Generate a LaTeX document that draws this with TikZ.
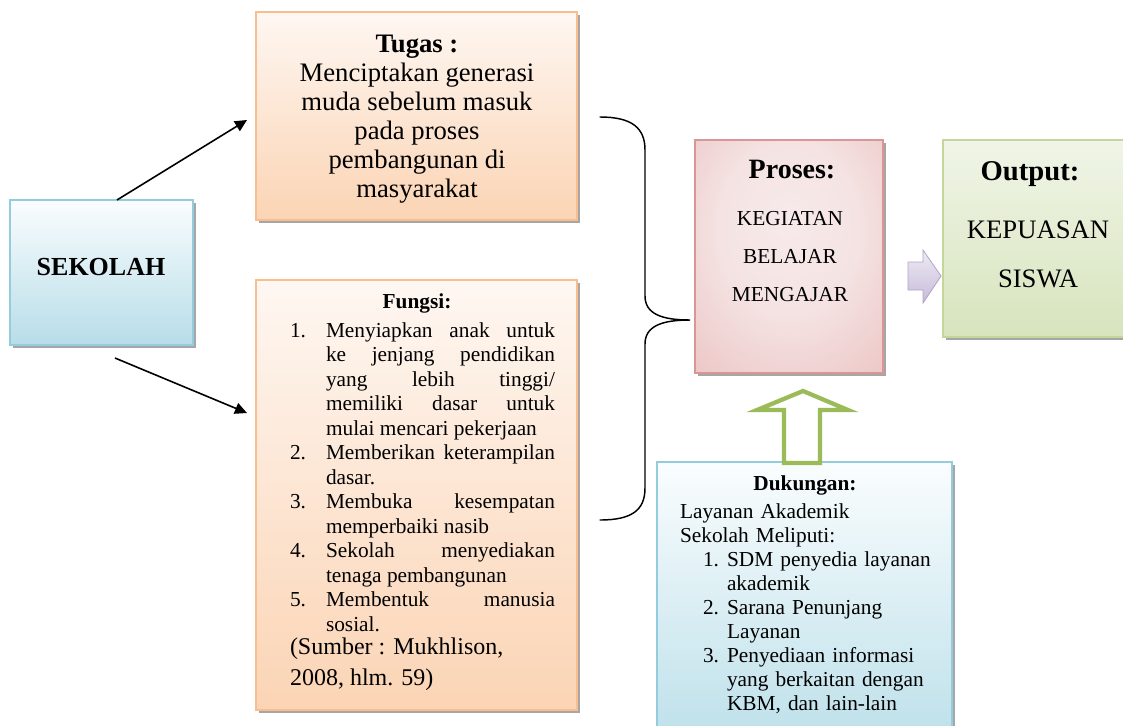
\documentclass[tikz,border=0pt]{standalone}
\usepackage{fontspec}
\setmainfont{Liberation Serif}
\usetikzlibrary{shadows,arrows.meta}
\definecolor{sekB}{HTML}{93CDDD}
\definecolor{sekF}{HTML}{B7DDE8}
\definecolor{sekT}{HTML}{FAFDFE}
\definecolor{peaB}{HTML}{F9BE8E}
\definecolor{peaF}{HTML}{FBD4B4}
\definecolor{peaT}{HTML}{FEF7F2}
\definecolor{pinB}{HTML}{D99694}
\definecolor{pinA}{HTML}{F7EAEA}
\definecolor{pinC}{HTML}{F5E3E3}
\definecolor{pinD}{HTML}{ECC8C7}
\definecolor{pinE}{HTML}{DEA3A2}
\definecolor{pinG}{HTML}{D89493}
\definecolor{grnB}{HTML}{C3D69B}
\definecolor{grnT}{HTML}{F0F5E7}
\definecolor{grnF}{HTML}{D7E4BD}
\definecolor{arrG}{HTML}{9BBB59}
\definecolor{lavB}{HTML}{B3A2C7}
\definecolor{lavT}{HTML}{EEEAF4}
\definecolor{lavF}{HTML}{C7BBD9}
\pgfdeclareradialshading{prosesshade}{\pgfpoint{0bp}{8bp}}{%
  color(0bp)=(pinA); color(18bp)=(pinC); color(38bp)=(pinD);
  color(58bp)=(pinE); color(75bp)=(pinG)}
\newcommand\lbl[1]{#1\hfil}
\begin{document}
\begin{tikzpicture}[x=0.75pt,y=-0.75pt,
  boxshape/.style={rectangle,inner sep=0pt,outer sep=0pt,line width=1.1pt,
    drop shadow={shadow xshift=2pt,shadow yshift=-2.4pt,fill=black,opacity=0.35}},
  txt/.style={inner sep=0pt,outer sep=0pt},
  blk/.style={line width=1.2pt,-{Triangle[length=9pt,width=8.5pt]}}]
\useasboundingbox (0,0) rectangle (1123,725);
\clip (0,0) rectangle (1123,725);

% boxes
\node[boxshape,draw=sekB,top color=sekT,bottom color=sekF,
  minimum width=137.25pt,minimum height=108.75pt] (sek) at (101.5,272.5) {};
\node[boxshape,draw=peaB,top color=peaT,bottom color=peaF,
  minimum width=240.75pt,minimum height=156pt] (tug) at (416.5,116) {};
\node[boxshape,draw=peaB,top color=peaT,bottom color=peaF,
  minimum width=240.75pt,minimum height=322.5pt] (fun) at (416.5,495) {};
\node[boxshape,draw=pinB,shading=prosesshade,
  minimum width=141pt,minimum height=174.75pt] (pro) at (789,256.5) {};
\node[boxshape,draw=grnB,top color=grnT,bottom color=grnF,
  minimum width=140.25pt,minimum height=147.75pt] (out) at (1036.5,238.5) {};
\node[boxshape,draw=sekB,top color=sekT,bottom color=sekF,
  minimum width=221.25pt,minimum height=231pt] (duk) at (804.5,616) {};

% texts
\node[txt,anchor=base,font=\bfseries\fontsize{19.5}{22}\selectfont] (sekt) at (101,275) {SEKOLAH};

\node[txt,anchor=north,align=center,font=\fontsize{20}{21.75}\selectfont] (tugt) at (417,32.5)
  {\strut\textbf{Tugas :}\\Menciptakan generasi\\muda sebelum masuk\\pada proses\\pembangunan di\\masyarakat};

\node[txt,anchor=base,font=\bfseries\fontsize{16}{18}\selectfont] (funh) at (417,308) {Fungsi:};
\node[txt,anchor=north west,text width=198.75pt,align=justify,
  font=\fontsize{16}{18.4}\selectfont] (funt) at (290,312.5) {%
  \hyphenpenalty=10000\exhyphenpenalty=10000
  \begin{list}{}{\setlength\leftmargin{27pt}\setlength\labelwidth{27pt}%
    \setlength\labelsep{0pt}\setlength\itemsep{0pt}\setlength\parsep{0pt}%
    \setlength\topsep{0pt}\setlength\partopsep{0pt}\let\makelabel\lbl}
  \item[1.]\strut Menyiapkan anak untuk\linebreak ke jenjang pendidikan\linebreak yang lebih tinggi/\linebreak memiliki dasar untuk\linebreak mulai mencari pekerjaan
  \item[2.] Memberikan keterampilan\linebreak dasar.
  \item[3.] Membuka kesempatan\linebreak memperbaiki nasib
  \item[4.] Sekolah menyediakan\linebreak tenaga pembangunan
  \item[5.] Membentuk manusia\linebreak sosial.
  \end{list}};
\node[txt,anchor=north west,align=left,font=\fontsize{18}{23}\selectfont] (sumt) at (290,633)
  {\strut(Sumber : Mukhlison,\\2008, hlm. 59)};

\node[txt,anchor=base,font=\bfseries\fontsize{21}{24}\selectfont] (proh) at (792,178) {Proses:};
\node[txt,anchor=north,align=center,font=\fontsize{16}{28.5}\selectfont] (prot) at (790,198.4)
  {\strut KEGIATAN\\BELAJAR\\MENGAJAR};

\node[txt,anchor=base,font=\bfseries\fontsize{21.5}{24}\selectfont] (outh) at (1030,180) {Output:};
\node[txt,anchor=north,align=center,font=\fontsize{20}{36.75}\selectfont] (outt) at (1038,203.7)
  {\strut KEPUASAN\\SISWA};

\node[txt,anchor=base,font=\bfseries\fontsize{16}{18}\selectfont] (dukh) at (805,490) {Dukungan:};
\node[txt,anchor=north west,text width=196.5pt,align=left,
  font=\fontsize{16}{18}\selectfont] (dukt) at (680,501.2) {%
  \hyphenpenalty=10000\exhyphenpenalty=10000
  \strut Layanan Akademik\newline Sekolah Meliputi:\par
  \begin{list}{}{\setlength\leftmargin{35.25pt}\setlength\labelwidth{18pt}%
    \setlength\labelsep{0pt}\setlength\itemsep{0pt}\setlength\parsep{0pt}%
    \setlength\topsep{0pt}\setlength\partopsep{0pt}\let\makelabel\lbl}
  \item[1.] SDM penyedia layanan\newline akademik
  \item[2.] Sarana Penunjang\newline Layanan
  \item[3.] Penyediaan informasi\newline yang berkaitan dengan\newline KBM, dan lain-lain
  \end{list}};

% black arrows
\coordinate (tt) at (247,120);
\coordinate (ft) at (247,413);
\draw[blk] ([xshift=11.6pt]sek.north) -- (tt);
\draw[blk] ([xshift=10.1pt,yshift=-9.75pt]sek.south) -- (ft);

% brace
\draw[line width=1.1pt,line cap=round]
  (600,117) .. controls (632,117) and (645,128) .. (645,150)
  -- (645,296) .. controls (645,314) and (662,320) .. (690,320)
  .. controls (662,320) and (645,326) .. (645,344)
  -- (645,488) .. controls (645,510) and (632,520) .. (600,520);

% purple arrow
\draw[draw=lavB,line width=0.6pt,top color=lavT,bottom color=lavF]
  (908,262) -- (923,262) -- (923,250) -- (941,276) -- (923,303) -- (923,290) -- (908,290) -- cycle;

% green arrow
\draw[draw=arrG,line width=3.2pt,fill=white,line join=miter]
  (784,463) -- (784,410) -- (757,410) -- (803,391) -- (848,410) -- (820,410) -- (820,463) -- cycle;
\end{tikzpicture}
\end{document}
